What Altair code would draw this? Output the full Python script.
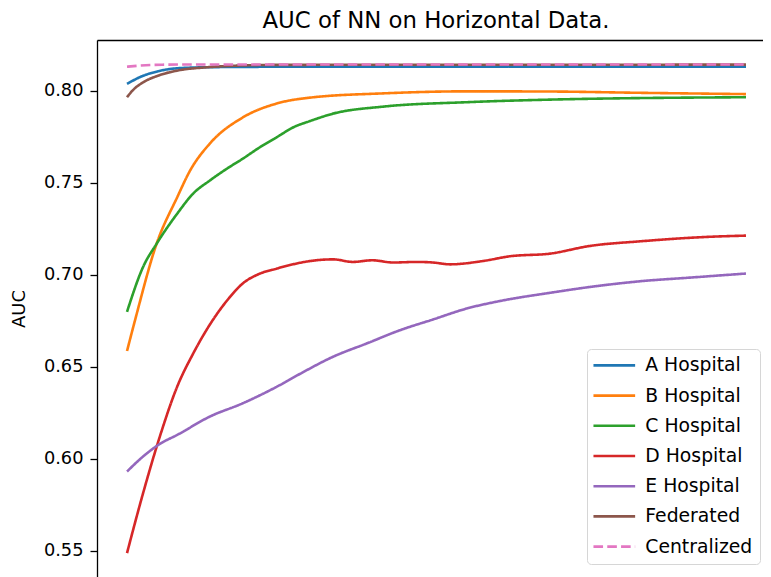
import altair as alt
import pandas as pd

# ---- data ----
series_names = ["A Hospital", "B Hospital", "C Hospital", "D Hospital",
                "E Hospital", "Federated", "Centralized"]
series_colors = ["#1f77b4", "#ff7f0e", "#2ca02c", "#d62728",
                 "#9467bd", "#8c564b", "#e377c2"]

a_x = [0, 2, 5, 8, 13, 20, 30, 100]
a_y = [0.8036, 0.8072, 0.8105, 0.8121, 0.8127, 0.8129, 0.8130, 0.8130]

b_x = [0, 1.3, 4.8, 8.1, 10.2, 13.4, 18.7, 24.2, 29.6, 41.4, 54.9, 68.3, 82.9, 100]
b_y = [0.6585, 0.6753, 0.7170, 0.7420, 0.7566, 0.7713, 0.7854, 0.7930,
       0.7962, 0.7985, 0.7996, 0.7995, 0.7988, 0.7981]

c_x = [0, 2.6, 4.8, 8.1, 10.7, 13.4, 16.1, 18.7, 21.5, 24.2, 26.9, 29.6, 33.3,
       41.4, 54.9, 68.3, 100]
c_y = [0.6798, 0.7042, 0.7169, 0.7331, 0.7441, 0.7512, 0.7575, 0.7630, 0.7693,
       0.7747, 0.7801, 0.7835, 0.7875, 0.7913, 0.7937, 0.7951, 0.7964]

d_x = [0, 2.6, 5.3, 8.1, 10.7, 13, 16.2, 18.7, 21.5, 24.2, 26.8, 29.6, 33.3,
       36.5, 39.6, 43, 46.8, 49.4, 52.2, 57.5, 61.9, 68.3, 74.8, 82.9, 93.7, 100]
d_y = [0.5487, 0.5813, 0.6120, 0.6391, 0.6572, 0.6708, 0.6861, 0.6952, 0.7006,
       0.7033, 0.7056, 0.7074, 0.7083, 0.7069, 0.7078, 0.7066, 0.7069, 0.7066,
       0.7056, 0.7074, 0.7100, 0.7114, 0.7156, 0.7181, 0.7205, 0.7212]

e_x = [0, 2.6, 5.3, 8.1, 13.4, 18.7, 24.2, 27.9, 33.3, 38.8, 44.1, 49.4, 54.9,
       60.3, 68.3, 74.8, 82.9, 91, 100]
e_y = [0.5930, 0.6012, 0.6080, 0.6129, 0.6229, 0.6301, 0.6391, 0.6460, 0.6554,
       0.6627, 0.6698, 0.6756, 0.6816, 0.6857, 0.6901, 0.6933, 0.6964, 0.6984, 0.7006]

fed_x = [0, 1, 2.6, 5, 8, 13, 18, 25, 100]
fed_y = [0.7964, 0.8004, 0.8045, 0.8081, 0.8108, 0.8127, 0.8136, 0.8140, 0.8141]

cen_x = [0, 3, 6, 10, 20, 100]
cen_y = [0.8130, 0.8138, 0.8141, 0.8142, 0.8142, 0.8142]

y_ticks = [0.55, 0.60, 0.65, 0.70, 0.75, 0.80]

# ---- long table ----
rows = []
for name, xs, ys in zip(series_names,
                        [a_x, b_x, c_x, d_x, e_x, fed_x, cen_x],
                        [a_y, b_y, c_y, d_y, e_y, fed_y, cen_y]):
    for xv, yv in zip(xs, ys):
        rows.append({"series": name, "step": xv, "auc": yv})
df = pd.DataFrame(rows)

FONT = "DejaVu Sans"

legend = alt.Legend(
    orient="none", legendX=490, legendY=309,
    symbolType="M-3,0H3", symbolSize=193, symbolStrokeWidth=2.6,
    symbolOffset=10.9, labelOffset=21.6,
    labelFontSize=18.8, labelFont=FONT, labelColor="#000000",
    rowPadding=10.2, padding=7,
    strokeColor="#d6d6d6", fillColor="#ffffff", cornerRadius=4,
)

color = alt.Color("series:N", title=None,
                  scale=alt.Scale(domain=series_names, range=series_colors),
                  legend=legend)
dash = alt.StrokeDash("series:N", title=None,
                      scale=alt.Scale(domain=series_names,
                                      range=[[1, 0]] * 6 + [[9.6, 4.2]]),
                      legend=legend)

x_enc = alt.X("step:Q",
              scale=alt.Scale(domain=[-4.85, 102.75], nice=False, zero=False),
              axis=alt.Axis(orient="top", labels=False, ticks=False, grid=False,
                            title=None, domainColor="#000000", domainWidth=1.3))
y_enc = alt.Y("auc:Q",
              scale=alt.Scale(domain=[0.5357, 0.8275], nice=False, zero=False),
              axis=alt.Axis(values=y_ticks, format=".2f", grid=False,
                            title="AUC", titleFont=FONT, titleFontSize=18,
                            titleFontWeight="normal", titleColor="#000000",
                            titlePadding=15,
                            labelFont=FONT, labelFontSize=17.8, labelColor="#000000",
                            labelPadding=7, tickSize=7, tickWidth=1.3,
                            tickColor="#000000", domainColor="#000000",
                            domainWidth=1.3))

base = alt.Chart(df).mark_line(strokeWidth=2.6, interpolate="monotone").encode(
    x=x_enc, y=y_enc, color=color, strokeDash=dash,
)

main = base.transform_filter(alt.datum.series != "Centralized")
top = base.transform_filter(alt.datum.series == "Centralized")

chart = alt.layer(main, top).properties(
    width=666, height=537,
    title=alt.Title("AUC of NN on Horizontal Data.", font=FONT, fontSize=22.8,
                    fontWeight="normal", color="#000000", anchor="middle",
                    baseline="alphabetic", offset=-10.8, dx=6),
    autosize=alt.AutoSizeParams(type="none"),
    padding={"left": 89, "top": 32, "right": 0, "bottom": 0},
).configure_view(strokeWidth=0).configure(background="#ffffff")

chart.save("out.html", embed_options={"renderer": "svg", "actions": False})
